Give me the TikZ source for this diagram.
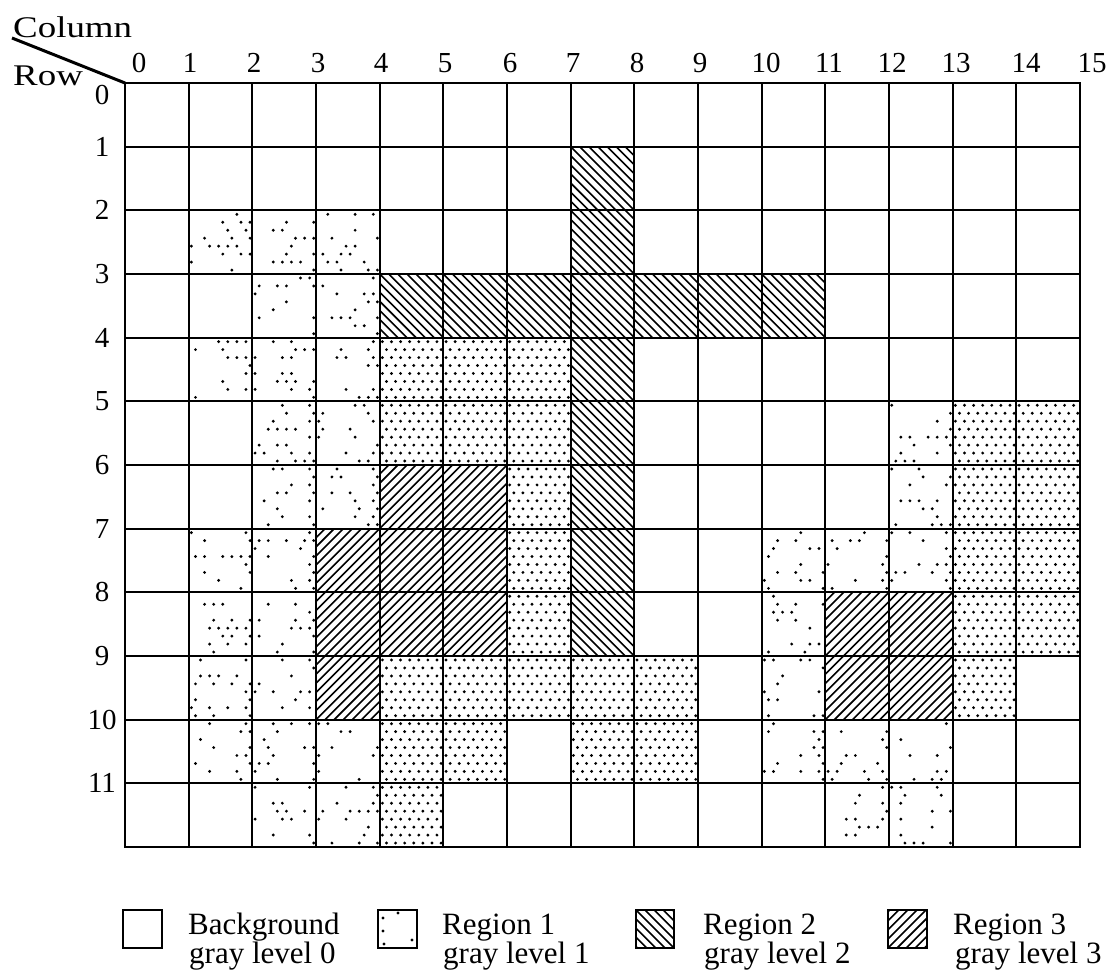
\documentclass[tikz,border=0pt]{standalone}
\usepackage{fontspec}
\setmainfont{Liberation Serif}
\newcommand{\hatchBS}[2]{%
  \begin{scope}
    \clip (#1,#2) rectangle ++(1,1);
    \foreach \k in {0,...,14} \draw[hatchline] ({#1-1+\k/7},#2) -- ++(1,1);
  \end{scope}}
\newcommand{\hatchFS}[2]{%
  \begin{scope}
    \clip (#1,#2) rectangle ++(1,1);
    \foreach \k in {0,...,14} \draw[hatchline] ({#1-1+\k/7},{#2+1}) -- ++(1,-1);
  \end{scope}}
\newcommand{\densecell}[2]{%
  \foreach \ii in {0,...,6}{\foreach \jj in {0,...,7}{%
    \fill ({#1+(\ii+0.3+0.45*mod(\jj,2))/7},{#2+(\jj+0.5)/8}) circle[radius=1.6pt];}}}
\newcommand{\sparsecell}[2]{%
  \foreach \ii in {0,...,6}{\foreach \jj in {0,...,7}{%
    \pgfmathsetmacro\rr{rnd}%
    \pgfmathsetmacro\thr{ifthenelse(\ii==6,0.55,0.22)}%
    \ifdim\rr pt<\thr pt\relax
      \fill ({#1+(\ii+0.3+0.45*mod(\jj,2))/7},{#2+(\jj+0.5)/8}) circle[radius=1.6pt];
    \fi}}}
\begin{document}
\begin{tikzpicture}[x=1pt,y=-1pt,
  gridline/.style={line width=2.3pt},
  hatchline/.style={line width=1.6pt},
  numlab/.style={font=\fontsize{29}{30}\selectfont, inner sep=0pt},
  headlab/.style={font=\fontsize{30}{30}\selectfont, inner sep=0pt, anchor=base west},
  leglab/.style={font=\fontsize{31}{32}\selectfont, inner sep=0pt, anchor=base west},
  legbox/.style={draw, line width=2pt}]
\useasboundingbox (0,0) rectangle (1114,970);
\pgfmathsetseed{11}

% ---------- grid with cell fills ----------
\begin{scope}[shift={(125,83)}, x=63.667pt, y=-63.667pt]
  % Region 2 (gray level 2)
  \foreach \cc/\rw in {7/1,7/2,4/3,5/3,6/3,7/3,8/3,9/3,10/3,7/4,7/5,7/6,7/7,7/8}
    {\hatchBS{\cc}{\rw}}
  % Region 3 (gray level 3)
  \foreach \cc/\rw in {4/6,5/6,3/7,4/7,5/7,3/8,4/8,5/8,3/9,11/8,12/8,11/9,12/9}
    {\hatchFS{\cc}{\rw}}
  % Region 1 dense dots
  \foreach \cc/\rw in {4/4,5/4,6/4,4/5,5/5,6/5,13/5,14/5,6/6,13/6,14/6,6/7,13/7,14/7,
                       6/8,13/8,14/8,4/9,5/9,6/9,7/9,8/9,13/9,4/10,5/10,7/10,8/10,4/11}
    {\densecell{\cc}{\rw}}
  % Region 1 sparse dots
  \foreach \cc/\rw in {1/2,2/2,3/2,2/3,3/3,1/4,2/4,3/4,2/5,3/5,12/5,2/6,3/6,12/6,
                       1/7,2/7,10/7,11/7,12/7,1/8,2/8,10/8,1/9,2/9,10/9,
                       1/10,2/10,3/10,10/10,11/10,12/10,2/11,3/11,11/11,12/11}
    {\sparsecell{\cc}{\rw}}
  % grid lines
  \foreach \cc in {0,...,15} \draw[gridline] (\cc,0) -- (\cc,12);
  \foreach \rw in {0,...,12} \draw[gridline] (0,\rw) -- (15,\rw);
  \draw[gridline] (0,0) rectangle (15,12);
\end{scope}

% ---------- header ----------
\coordinate (corner) at (125,83);
\coordinate (diagend) at (12,38);
\draw[line width=3pt] (diagend) -- (corner);
\node[headlab] (colhead) at (13,37) {\scalebox{1.23}[1]{Column}};
\node[headlab] (rowhead) at (13,85) {\scalebox{1.23}[1]{Row}};

\foreach \n/\xx in {0/139,1/190,2/254,3/318,4/381,5/445,6/510,7/573,8/637,9/700,
                    10/766,11/829,12/892,13/956,14/1026,15/1092}
  \node[numlab, anchor=base] (col\n) at (\xx,72) {\n};
\node[numlab] (row0) at (102,95) {0};
\foreach \n in {1,...,11}
  \node[numlab] (row\n) at (102,{83+63.667*\n}) {\n};

% ---------- legend ----------
\draw[legbox] (123,910) rectangle (162,948);
\draw[legbox] (378,910) rectangle (417,948);
\foreach \p in {(383,918),(383,931),(412,940),(398,913),(384,944)}
  \fill \p circle[radius=1.6pt];
\begin{scope}
  \clip (636,910) rectangle (674,948);
  \foreach \k in {-5,...,5} \draw[hatchline] ({636+\k*9.1},910) -- ++(38,38);
\end{scope}
\draw[legbox] (636,910) rectangle (674,948);
\begin{scope}
  \clip (888,910) rectangle (927,948);
  \foreach \k in {-5,...,5} \draw[hatchline] ({888+\k*9.1},948) -- ++(38,-38);
\end{scope}
\draw[legbox] (888,910) rectangle (927,948);

\node[leglab] (l0a) at (188,934) {Background};
\node[leglab] (l0b) at (189,963) {gray level 0};
\node[leglab] (l1a) at (442,934) {Region 1};
\node[leglab] (l1b) at (443,963) {gray level 1};
\node[leglab] (l2a) at (703,934) {Region 2};
\node[leglab] (l2b) at (704,963) {gray level 2};
\node[leglab] (l3a) at (953,934) {Region 3};
\node[leglab] (l3b) at (955,963) {gray level 3};
\end{tikzpicture}
\end{document}
